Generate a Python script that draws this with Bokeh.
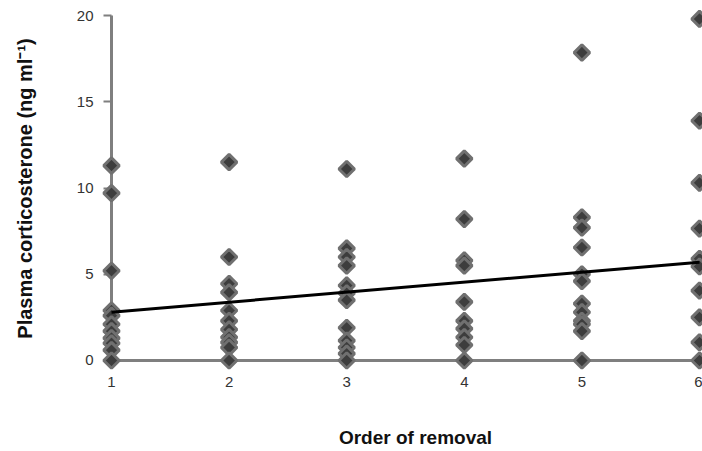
import numpy as np
from bokeh.plotting import figure
from bokeh.models import FixedTicker, ColumnDataSource, Label
from bokeh.embed import file_html
from bokeh.resources import INLINE

# ---- data ----
order_levels = [1, 2, 3, 4, 5, 6]
cort_1 = [11.3, 9.7, 5.2, 2.9, 2.6, 2.1, 1.7, 1.3, 1.0, 0.6, 0.0]
cort_2 = [11.5, 6.0, 4.45, 3.95, 2.9, 2.3, 1.8, 1.35, 1.05, 0.75, 0.0]
cort_3 = [11.1, 6.5, 6.0, 5.5, 4.35, 3.9, 3.5, 1.9, 1.15, 0.75, 0.4, 0.0]
cort_4 = [11.7, 8.2, 5.8, 5.5, 3.4, 2.3, 1.85, 1.35, 0.9, 0.0]
cort_5 = [17.85, 8.3, 7.7, 6.55, 5.0, 4.6, 3.3, 2.8, 2.3, 2.1, 1.7, 0.0]
cort_6 = [19.8, 13.9, 10.3, 7.65, 5.9, 5.45, 4.05, 2.5, 1.05, 0.0]
fit_x = [1, 6]
fit_y = [2.8, 5.7]
y_ticks = [0, 5, 10, 15, 20]
x_ticks = [1, 2, 3, 4, 5, 6]
x_title = "Order of removal"
y_title = "Plasma corticosterone (ng ml\u207b\u00b9)"

groups = [cort_1, cort_2, cort_3, cort_4, cort_5, cort_6]
xs, ys = [], []
for lvl, vals in zip(order_levels, groups):
    xs.extend([lvl] * len(vals))
    ys.extend(vals)
src = ColumnDataSource(dict(x=xs, y=ys))

FONT = "Liberation Sans"
GREY = "#7f7f7f"
X0, X1 = 0.0561, 6.0255
Y0, Y1 = -5.2754, 20.8696

p = figure(width=702, height=451, output_backend="svg", toolbar_location=None,
           x_range=(X0, X1), y_range=(Y0, Y1),
           min_border_left=0, min_border_right=0, min_border_top=0,
           min_border_bottom=0)
p.outline_line_color = None
p.xgrid.visible = False
p.ygrid.visible = False
p.background_fill_color = "white"
p.border_fill_color = "white"

# y axis drawn at x = 1
ya = p.yaxis[0]
ya.fixed_location = 1
ya.bounds = (0, 20)
ya.ticker = FixedTicker(ticks=y_ticks)
ya.axis_line_color = GREY
ya.axis_line_width = 3
ya.major_tick_line_color = GREY
ya.major_tick_line_width = 2
ya.major_tick_out = 8
ya.major_tick_in = 0
ya.minor_tick_line_color = None
ya.major_label_standoff = 10
ya.major_label_text_font = FONT
ya.major_label_text_font_size = "15px"
ya.major_label_text_color = "#333333"

# x axis drawn at y = 0
xa = p.xaxis[0]
xa.fixed_location = 0
xa.bounds = (1, X1)
xa.ticker = FixedTicker(ticks=x_ticks)
xa.axis_line_color = GREY
xa.axis_line_width = 3
xa.major_tick_line_color = None
xa.major_tick_out = 0
xa.major_tick_in = 0
xa.minor_tick_line_color = None
xa.major_label_standoff = 17
xa.major_label_text_font = FONT
xa.major_label_text_font_size = "15px"
xa.major_label_text_color = "#333333"

p.scatter("x", "y", source=src, marker="square", size=11, angle=np.pi / 4,
          fill_color="#3d3d3d", line_color="#707070", line_width=3,
          level="overlay")
p.line(fit_x, fit_y, line_color="black", line_width=3, level="overlay")

p.add_layout(Label(x=3.585, y=-4.464, text=x_title, text_font=FONT,
                   text_font_size="19px", text_font_style="bold",
                   text_color="#111111", text_align="center",
                   text_baseline="middle"))
p.add_layout(Label(x=0.2602, y=9.971, text=y_title, text_font=FONT,
                   text_font_size="20px", text_font_style="bold",
                   text_color="#111111", text_align="center",
                   text_baseline="middle", angle=np.pi / 2))

open("out.html", "w").write(file_html(p, INLINE))
